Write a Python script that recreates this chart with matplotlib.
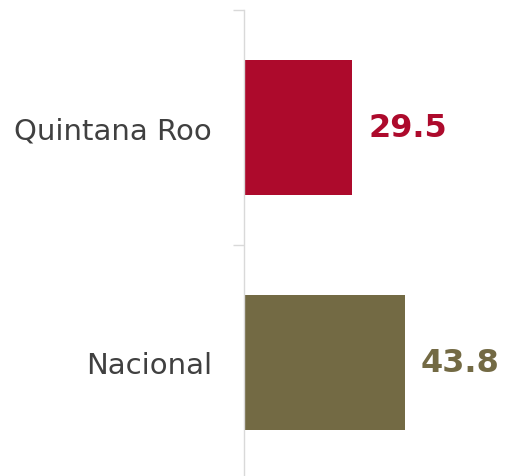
import matplotlib
matplotlib.use("Agg")
import matplotlib.pyplot as plt
from matplotlib.transforms import offset_copy

# Data
categories = ["Nacional", "Quintana Roo"]
values = [43.8, 29.5]
colors = ["#736A44", "#AD0A2C"]

fig = plt.figure(figsize=(5.05, 4.77), dpi=100)
ax = fig.add_axes([244 / 505, -4 / 477, 255 / 505, 470 / 477])

pos = list(range(len(categories)))
ax.barh(pos, values, height=0.575, color=colors)

ax.set_xlim(0, 69.5)
ax.set_ylim(-0.5, 1.5)

# value labels
for y, v, c in zip(pos, values, colors):
    tr = offset_copy(ax.transData, fig=fig, x=16, y=0, units="dots")
    ax.text(v, y, f"{v:.1f}", transform=tr, ha="left", va="center",
            fontsize=23, fontweight="bold", color=c)

# spines
for s in ["top", "right", "bottom"]:
    ax.spines[s].set_visible(False)
ax.spines["left"].set_color("#D9D9D9")
ax.spines["left"].set_linewidth(1.0)

ax.set_xticks([])
ax.set_yticks([-0.5, 0.5, 1.5])
ax.set_yticklabels([])
ax.tick_params(axis="y", which="major", length=8, color="#D9D9D9", width=1.0)
ax.set_yticks(pos, minor=True)
ax.set_yticklabels(categories, minor=True)
ax.tick_params(axis="y", which="minor", length=0, pad=23, labelsize=21,
               labelcolor="#404040")

fig.savefig("out.png", dpi=100)
